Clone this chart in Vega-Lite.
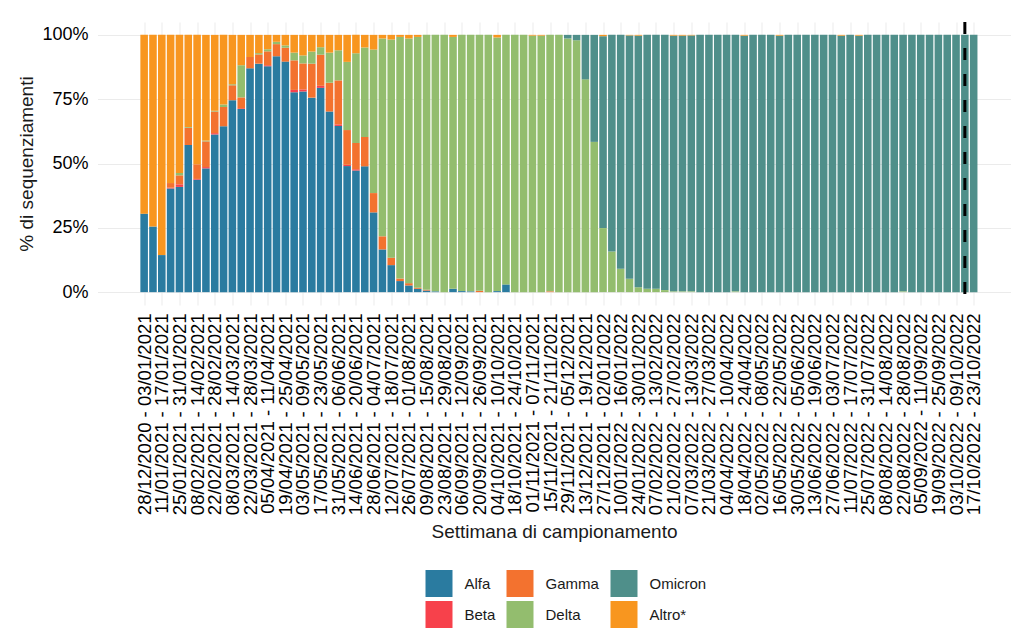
{
"$schema": "https://vega.github.io/schema/vega-lite/v6.json",
"width": 913,
"height": 283,
"autosize": {"type": "pad"},
"padding": {"left": 17.5, "top": 20, "right": 0, "bottom": 0},
"background": "white",
"config": {"font": "Liberation Sans", "view": {"stroke": null}},
"datasets": {
"var": [{"variant":"Alfa","rank":1},{"variant":"Beta","rank":2},{"variant":"Gamma","rank":3},{"variant":"Delta","rank":4},{"variant":"Omicron","rank":5},{"variant":"Altro*","rank":6}],
"wk": [
{"s":"2020-12-28","e":"2021-01-03","Alfa":30.5,"Beta":0,"Gamma":0,"Delta":0,"Omicron":0,"Altro*":69.5},
{"s":"2021-01-04","e":"2021-01-10","Alfa":25.5,"Beta":0,"Gamma":0,"Delta":0,"Omicron":0,"Altro*":74.5},
{"s":"2021-01-11","e":"2021-01-17","Alfa":14.4,"Beta":0,"Gamma":0,"Delta":0,"Omicron":0,"Altro*":85.6},
{"s":"2021-01-18","e":"2021-01-24","Alfa":40.3,"Beta":0.3,"Gamma":1.8,"Delta":0,"Omicron":0,"Altro*":57.6},
{"s":"2021-01-25","e":"2021-01-31","Alfa":40.9,"Beta":1,"Gamma":3.5,"Delta":0.9,"Omicron":0,"Altro*":53.7},
{"s":"2021-02-01","e":"2021-02-07","Alfa":57.2,"Beta":0,"Gamma":6.7,"Delta":0.3,"Omicron":0,"Altro*":35.8},
{"s":"2021-02-08","e":"2021-02-14","Alfa":43.7,"Beta":0.3,"Gamma":5.7,"Delta":0,"Omicron":0,"Altro*":50.3},
{"s":"2021-02-15","e":"2021-02-21","Alfa":48.1,"Beta":0.5,"Gamma":10,"Delta":0.3,"Omicron":0,"Altro*":41.1},
{"s":"2021-02-22","e":"2021-02-28","Alfa":61.3,"Beta":0.5,"Gamma":8.4,"Delta":0.3,"Omicron":0,"Altro*":29.5},
{"s":"2021-03-01","e":"2021-03-07","Alfa":64.5,"Beta":0,"Gamma":7.5,"Delta":0.9,"Omicron":0,"Altro*":27.1},
{"s":"2021-03-08","e":"2021-03-14","Alfa":74.6,"Beta":0,"Gamma":5.8,"Delta":0.4,"Omicron":0,"Altro*":19.2},
{"s":"2021-03-15","e":"2021-03-21","Alfa":71.2,"Beta":0.3,"Gamma":4.2,"Delta":12.5,"Omicron":0,"Altro*":11.8},
{"s":"2021-03-22","e":"2021-03-28","Alfa":87,"Beta":0,"Gamma":4.4,"Delta":0,"Omicron":0,"Altro*":8.6},
{"s":"2021-03-29","e":"2021-04-04","Alfa":88.8,"Beta":0,"Gamma":3.6,"Delta":0.5,"Omicron":0,"Altro*":7.1},
{"s":"2021-04-05","e":"2021-04-11","Alfa":87.8,"Beta":0.4,"Gamma":5.4,"Delta":0.8,"Omicron":0,"Altro*":5.6},
{"s":"2021-04-12","e":"2021-04-18","Alfa":91.7,"Beta":0,"Gamma":4.7,"Delta":0.9,"Omicron":0,"Altro*":2.7},
{"s":"2021-04-19","e":"2021-04-25","Alfa":89.6,"Beta":0,"Gamma":5.4,"Delta":0.9,"Omicron":0,"Altro*":4.1},
{"s":"2021-04-26","e":"2021-05-02","Alfa":77.7,"Beta":0.9,"Gamma":11.5,"Delta":3,"Omicron":0,"Altro*":6.9},
{"s":"2021-05-03","e":"2021-05-09","Alfa":78,"Beta":0.8,"Gamma":10.1,"Delta":3.1,"Omicron":0,"Altro*":8},
{"s":"2021-05-10","e":"2021-05-16","Alfa":75.6,"Beta":0,"Gamma":13.2,"Delta":4.7,"Omicron":0,"Altro*":6.5},
{"s":"2021-05-17","e":"2021-05-23","Alfa":79.4,"Beta":0.8,"Gamma":12.1,"Delta":2.9,"Omicron":0,"Altro*":4.8},
{"s":"2021-05-24","e":"2021-05-30","Alfa":70.2,"Beta":0,"Gamma":11.2,"Delta":11.7,"Omicron":0,"Altro*":6.9},
{"s":"2021-05-31","e":"2021-06-06","Alfa":64.6,"Beta":0.6,"Gamma":17.1,"Delta":11.7,"Omicron":0,"Altro*":6},
{"s":"2021-06-07","e":"2021-06-13","Alfa":49,"Beta":0.5,"Gamma":13.5,"Delta":26.5,"Omicron":0,"Altro*":10.5},
{"s":"2021-06-14","e":"2021-06-20","Alfa":47.3,"Beta":0.5,"Gamma":10.2,"Delta":34.9,"Omicron":0,"Altro*":7.1},
{"s":"2021-06-21","e":"2021-06-27","Alfa":48.9,"Beta":0,"Gamma":11.4,"Delta":34.8,"Omicron":0,"Altro*":4.9},
{"s":"2021-06-28","e":"2021-07-04","Alfa":31,"Beta":0,"Gamma":7.5,"Delta":55.8,"Omicron":0,"Altro*":5.7},
{"s":"2021-07-05","e":"2021-07-11","Alfa":16.6,"Beta":0,"Gamma":5.1,"Delta":76.9,"Omicron":0,"Altro*":1.4},
{"s":"2021-07-12","e":"2021-07-18","Alfa":10.5,"Beta":0,"Gamma":2.9,"Delta":84.8,"Omicron":0,"Altro*":1.8},
{"s":"2021-07-19","e":"2021-07-25","Alfa":4.3,"Beta":0,"Gamma":1,"Delta":93.9,"Omicron":0,"Altro*":0.8},
{"s":"2021-07-26","e":"2021-08-01","Alfa":2.6,"Beta":0,"Gamma":0.9,"Delta":95.1,"Omicron":0,"Altro*":1.4},
{"s":"2021-08-02","e":"2021-08-08","Alfa":1.3,"Beta":0,"Gamma":0.4,"Delta":97.5,"Omicron":0,"Altro*":0.8},
{"s":"2021-08-09","e":"2021-08-15","Alfa":0.6,"Beta":0,"Gamma":0.3,"Delta":99.1,"Omicron":0,"Altro*":0},
{"s":"2021-08-16","e":"2021-08-22","Alfa":0.3,"Beta":0,"Gamma":0,"Delta":99.7,"Omicron":0,"Altro*":0},
{"s":"2021-08-23","e":"2021-08-29","Alfa":0,"Beta":0,"Gamma":0,"Delta":100,"Omicron":0,"Altro*":0},
{"s":"2021-08-30","e":"2021-09-05","Alfa":1.3,"Beta":0,"Gamma":0,"Delta":97.9,"Omicron":0,"Altro*":0.8},
{"s":"2021-09-06","e":"2021-09-12","Alfa":0.4,"Beta":0,"Gamma":0,"Delta":99.6,"Omicron":0,"Altro*":0},
{"s":"2021-09-13","e":"2021-09-19","Alfa":0.3,"Beta":0,"Gamma":0,"Delta":99.7,"Omicron":0,"Altro*":0},
{"s":"2021-09-20","e":"2021-09-26","Alfa":0,"Beta":0,"Gamma":0.5,"Delta":99.5,"Omicron":0,"Altro*":0},
{"s":"2021-09-27","e":"2021-10-03","Alfa":0,"Beta":0,"Gamma":0,"Delta":100,"Omicron":0,"Altro*":0},
{"s":"2021-10-04","e":"2021-10-10","Alfa":0.4,"Beta":0,"Gamma":0,"Delta":98.6,"Omicron":0,"Altro*":1},
{"s":"2021-10-11","e":"2021-10-17","Alfa":3,"Beta":0,"Gamma":0,"Delta":97,"Omicron":0,"Altro*":0},
{"s":"2021-10-18","e":"2021-10-24","Alfa":0,"Beta":0,"Gamma":0,"Delta":100,"Omicron":0,"Altro*":0},
{"s":"2021-10-25","e":"2021-10-31","Alfa":0,"Beta":0,"Gamma":0,"Delta":100,"Omicron":0,"Altro*":0},
{"s":"2021-11-01","e":"2021-11-07","Alfa":0,"Beta":0,"Gamma":0,"Delta":99.7,"Omicron":0,"Altro*":0.3},
{"s":"2021-11-08","e":"2021-11-14","Alfa":0,"Beta":0,"Gamma":0,"Delta":99.7,"Omicron":0,"Altro*":0.3},
{"s":"2021-11-15","e":"2021-11-21","Alfa":0,"Beta":0,"Gamma":0.3,"Delta":99.7,"Omicron":0,"Altro*":0},
{"s":"2021-11-22","e":"2021-11-28","Alfa":0,"Beta":0,"Gamma":0,"Delta":100,"Omicron":0,"Altro*":0},
{"s":"2021-11-29","e":"2021-12-05","Alfa":0,"Beta":0,"Gamma":0,"Delta":98.6,"Omicron":1.4,"Altro*":0},
{"s":"2021-12-06","e":"2021-12-12","Alfa":0,"Beta":0,"Gamma":0,"Delta":97.9,"Omicron":2.1,"Altro*":0},
{"s":"2021-12-13","e":"2021-12-19","Alfa":0,"Beta":0,"Gamma":0,"Delta":82.7,"Omicron":17.3,"Altro*":0},
{"s":"2021-12-20","e":"2021-12-26","Alfa":0,"Beta":0,"Gamma":0,"Delta":58.4,"Omicron":41.6,"Altro*":0},
{"s":"2021-12-27","e":"2022-01-02","Alfa":0,"Beta":0,"Gamma":0,"Delta":24.9,"Omicron":74.6,"Altro*":0.5},
{"s":"2022-01-03","e":"2022-01-09","Alfa":0,"Beta":0,"Gamma":0,"Delta":15.8,"Omicron":84.2,"Altro*":0},
{"s":"2022-01-10","e":"2022-01-16","Alfa":0,"Beta":0,"Gamma":0,"Delta":9.1,"Omicron":90.9,"Altro*":0},
{"s":"2022-01-17","e":"2022-01-23","Alfa":0,"Beta":0,"Gamma":0,"Delta":5.2,"Omicron":94.6,"Altro*":0.2},
{"s":"2022-01-24","e":"2022-01-30","Alfa":0,"Beta":0,"Gamma":0,"Delta":1.9,"Omicron":97.8,"Altro*":0.3},
{"s":"2022-01-31","e":"2022-02-06","Alfa":0,"Beta":0,"Gamma":0,"Delta":1.3,"Omicron":98.7,"Altro*":0},
{"s":"2022-02-07","e":"2022-02-13","Alfa":0,"Beta":0,"Gamma":0,"Delta":1.3,"Omicron":98.7,"Altro*":0},
{"s":"2022-02-14","e":"2022-02-20","Alfa":0,"Beta":0,"Gamma":0,"Delta":0.8,"Omicron":99.2,"Altro*":0},
{"s":"2022-02-21","e":"2022-02-27","Alfa":0,"Beta":0,"Gamma":0,"Delta":0.3,"Omicron":99.4,"Altro*":0.3},
{"s":"2022-02-28","e":"2022-03-06","Alfa":0,"Beta":0,"Gamma":0,"Delta":0.3,"Omicron":99.4,"Altro*":0.3},
{"s":"2022-03-07","e":"2022-03-13","Alfa":0,"Beta":0,"Gamma":0,"Delta":0.3,"Omicron":99.5,"Altro*":0.2},
{"s":"2022-03-14","e":"2022-03-20","Alfa":0,"Beta":0,"Gamma":0,"Delta":0,"Omicron":100,"Altro*":0},
{"s":"2022-03-21","e":"2022-03-27","Alfa":0,"Beta":0,"Gamma":0,"Delta":0,"Omicron":100,"Altro*":0},
{"s":"2022-03-28","e":"2022-04-03","Alfa":0,"Beta":0,"Gamma":0,"Delta":0,"Omicron":100,"Altro*":0},
{"s":"2022-04-04","e":"2022-04-10","Alfa":0,"Beta":0,"Gamma":0,"Delta":0,"Omicron":100,"Altro*":0},
{"s":"2022-04-11","e":"2022-04-17","Alfa":0,"Beta":0,"Gamma":0,"Delta":0.3,"Omicron":99.7,"Altro*":0},
{"s":"2022-04-18","e":"2022-04-24","Alfa":0,"Beta":0,"Gamma":0,"Delta":0,"Omicron":99.7,"Altro*":0.3},
{"s":"2022-04-25","e":"2022-05-01","Alfa":0,"Beta":0,"Gamma":0,"Delta":0,"Omicron":100,"Altro*":0},
{"s":"2022-05-02","e":"2022-05-08","Alfa":0,"Beta":0,"Gamma":0,"Delta":0,"Omicron":100,"Altro*":0},
{"s":"2022-05-09","e":"2022-05-15","Alfa":0,"Beta":0,"Gamma":0,"Delta":0,"Omicron":100,"Altro*":0},
{"s":"2022-05-16","e":"2022-05-22","Alfa":0,"Beta":0,"Gamma":0,"Delta":0,"Omicron":99.7,"Altro*":0.3},
{"s":"2022-05-23","e":"2022-05-29","Alfa":0,"Beta":0,"Gamma":0,"Delta":0,"Omicron":100,"Altro*":0},
{"s":"2022-05-30","e":"2022-06-05","Alfa":0,"Beta":0,"Gamma":0,"Delta":0,"Omicron":100,"Altro*":0},
{"s":"2022-06-06","e":"2022-06-12","Alfa":0,"Beta":0,"Gamma":0,"Delta":0,"Omicron":100,"Altro*":0},
{"s":"2022-06-13","e":"2022-06-19","Alfa":0,"Beta":0,"Gamma":0,"Delta":0,"Omicron":100,"Altro*":0},
{"s":"2022-06-20","e":"2022-06-26","Alfa":0,"Beta":0,"Gamma":0,"Delta":0,"Omicron":100,"Altro*":0},
{"s":"2022-06-27","e":"2022-07-03","Alfa":0,"Beta":0,"Gamma":0,"Delta":0,"Omicron":100,"Altro*":0},
{"s":"2022-07-04","e":"2022-07-10","Alfa":0,"Beta":0,"Gamma":0,"Delta":0,"Omicron":99.7,"Altro*":0.3},
{"s":"2022-07-11","e":"2022-07-17","Alfa":0,"Beta":0,"Gamma":0,"Delta":0,"Omicron":100,"Altro*":0},
{"s":"2022-07-18","e":"2022-07-24","Alfa":0,"Beta":0,"Gamma":0,"Delta":0,"Omicron":99.7,"Altro*":0.3},
{"s":"2022-07-25","e":"2022-07-31","Alfa":0,"Beta":0,"Gamma":0,"Delta":0,"Omicron":100,"Altro*":0},
{"s":"2022-08-01","e":"2022-08-07","Alfa":0,"Beta":0,"Gamma":0,"Delta":0,"Omicron":100,"Altro*":0},
{"s":"2022-08-08","e":"2022-08-14","Alfa":0,"Beta":0,"Gamma":0,"Delta":0,"Omicron":100,"Altro*":0},
{"s":"2022-08-15","e":"2022-08-21","Alfa":0,"Beta":0,"Gamma":0,"Delta":0,"Omicron":100,"Altro*":0},
{"s":"2022-08-22","e":"2022-08-28","Alfa":0,"Beta":0,"Gamma":0,"Delta":0.3,"Omicron":99.7,"Altro*":0},
{"s":"2022-08-29","e":"2022-09-04","Alfa":0,"Beta":0,"Gamma":0,"Delta":0,"Omicron":100,"Altro*":0},
{"s":"2022-09-05","e":"2022-09-11","Alfa":0,"Beta":0,"Gamma":0,"Delta":0,"Omicron":100,"Altro*":0},
{"s":"2022-09-12","e":"2022-09-18","Alfa":0,"Beta":0,"Gamma":0,"Delta":0,"Omicron":100,"Altro*":0},
{"s":"2022-09-19","e":"2022-09-25","Alfa":0,"Beta":0,"Gamma":0,"Delta":0,"Omicron":100,"Altro*":0},
{"s":"2022-09-26","e":"2022-10-02","Alfa":0,"Beta":0,"Gamma":0,"Delta":0,"Omicron":100,"Altro*":0},
{"s":"2022-10-03","e":"2022-10-09","Alfa":0,"Beta":0,"Gamma":0,"Delta":0,"Omicron":100,"Altro*":0},
{"s":"2022-10-10","e":"2022-10-16","Alfa":0,"Beta":0,"Gamma":0,"Delta":0,"Omicron":100,"Altro*":0},
{"s":"2022-10-17","e":"2022-10-23","Alfa":0,"Beta":0,"Gamma":0,"Delta":0,"Omicron":100,"Altro*":0}
]},
"layer": [
{
"data": {"name": "wk"},
"transform": [
{"fold": ["Alfa","Beta","Gamma","Delta","Omicron","Altro*"], "as": ["variant","p"]},
{"lookup": "variant", "from": {"data": {"name": "var"}, "key": "variant", "fields": ["rank"]}}
],
"mark": {"type": "bar", "orient": "vertical"},
"encoding": {
"x": {"field": "s", "type": "temporal",
"scale": {"type": "utc", "domain": [{"year":2020,"month":11,"date":24,"utc":true},{"year":2022,"month":11,"date":18,"hours":5,"utc":true}], "nice": false, "padding": 0},
"axis": {"values": [
{"year":2020,"month":12,"date":31,"utc":true},{"year":2021,"month":1,"date":14,"utc":true},{"year":2021,"month":1,"date":28,"utc":true},{"year":2021,"month":2,"date":11,"utc":true},{"year":2021,"month":2,"date":25,"utc":true},{"year":2021,"month":3,"date":11,"utc":true},{"year":2021,"month":3,"date":25,"utc":true},{"year":2021,"month":4,"date":8,"utc":true},{"year":2021,"month":4,"date":22,"utc":true},{"year":2021,"month":5,"date":6,"utc":true},{"year":2021,"month":5,"date":20,"utc":true},{"year":2021,"month":6,"date":3,"utc":true},{"year":2021,"month":6,"date":17,"utc":true},{"year":2021,"month":7,"date":1,"utc":true},{"year":2021,"month":7,"date":15,"utc":true},{"year":2021,"month":7,"date":29,"utc":true},{"year":2021,"month":8,"date":12,"utc":true},{"year":2021,"month":8,"date":26,"utc":true},{"year":2021,"month":9,"date":9,"utc":true},{"year":2021,"month":9,"date":23,"utc":true},{"year":2021,"month":10,"date":7,"utc":true},{"year":2021,"month":10,"date":21,"utc":true},{"year":2021,"month":11,"date":4,"utc":true},{"year":2021,"month":11,"date":18,"utc":true},{"year":2021,"month":12,"date":2,"utc":true},{"year":2021,"month":12,"date":16,"utc":true},{"year":2021,"month":12,"date":30,"utc":true},{"year":2022,"month":1,"date":13,"utc":true},{"year":2022,"month":1,"date":27,"utc":true},{"year":2022,"month":2,"date":10,"utc":true},{"year":2022,"month":2,"date":24,"utc":true},{"year":2022,"month":3,"date":10,"utc":true},{"year":2022,"month":3,"date":24,"utc":true},{"year":2022,"month":4,"date":7,"utc":true},{"year":2022,"month":4,"date":21,"utc":true},{"year":2022,"month":5,"date":5,"utc":true},{"year":2022,"month":5,"date":19,"utc":true},{"year":2022,"month":6,"date":2,"utc":true},{"year":2022,"month":6,"date":16,"utc":true},{"year":2022,"month":6,"date":30,"utc":true},{"year":2022,"month":7,"date":14,"utc":true},{"year":2022,"month":7,"date":28,"utc":true},{"year":2022,"month":8,"date":11,"utc":true},{"year":2022,"month":8,"date":25,"utc":true},{"year":2022,"month":9,"date":8,"utc":true},{"year":2022,"month":9,"date":22,"utc":true},{"year":2022,"month":10,"date":6,"utc":true},{"year":2022,"month":10,"date":20,"utc":true}],
"tickCount": 200,
"labelExpr": "utcFormat(datum.value - 3*86400000, '%d/%m/%Y') + ' - ' + utcFormat(datum.value + 3*86400000, '%d/%m/%Y')",
"labelAngle": -90, "labelFontSize": 18.5, "labelColor": "#000000", "labelPadding": 8, "labelOverlap": false, "labelBound": false, "labelFlush": false, "labelLimit": 400,
"ticks": false, "tickSize": 0, "domain": false, "grid": true, "gridColor": "#ebebeb", "gridWidth": 1,
"title": "Settimana di campionamento", "titleFontSize": 19, "titleFontWeight": "normal", "titleColor": "#1a1a1a", "titleY": 217, "titleBaseline": "top"}},
"x2": {"field": "e"},
"y": {"field": "p", "type": "quantitative", "stack": "normalize",
"scale": {"domain": [-0.05, 1.05], "nice": false, "zero": false},
"axis": {"values": [0, 0.25, 0.5, 0.75, 1], "format": ".0%", "labelFontSize": 18, "labelColor": "#000000", "labelPadding": 9.5,
"ticks": false, "tickSize": 0, "domain": false, "grid": true, "gridColor": "#ebebeb", "gridWidth": 1,
"title": "% di sequenziamenti", "titleFontSize": 19, "titleFontWeight": "normal", "titleColor": "#1a1a1a", "titlePadding": 5}},
"color": {"field": "variant", "type": "nominal",
"scale": {"domain": ["Alfa","Gamma","Omicron","Beta","Delta","Altro*"], "range": ["#2a7ba0","#f3722f","#4f8f8a","#f7414b","#93bd6e","#f8961f"]},
"legend": {"orient": "none", "legendX": 328, "legendY": 548, "direction": "horizontal", "columns": 3, "title": null,
"symbolType": "square", "symbolSize": 729, "symbolStrokeWidth": 0, "symbolOpacity": 1,
"labelFontSize": 15, "labelColor": "#1a1a1a", "labelOffset": 12, "columnPadding": 11, "rowPadding": 4, "padding": 0, "gridAlign": "each"}},
"order": {"field": "rank", "type": "quantitative", "sort": "ascending"}
}
},
{
"data": {"values": [{}]},
"mark": {"type": "rule", "color": "#000000", "strokeWidth": 3, "strokeDash": [12, 14]},
"encoding": {"x": {"datum": {"year":2022,"month":10,"date":13,"utc":true}, "type": "temporal"}}
}
]
}
